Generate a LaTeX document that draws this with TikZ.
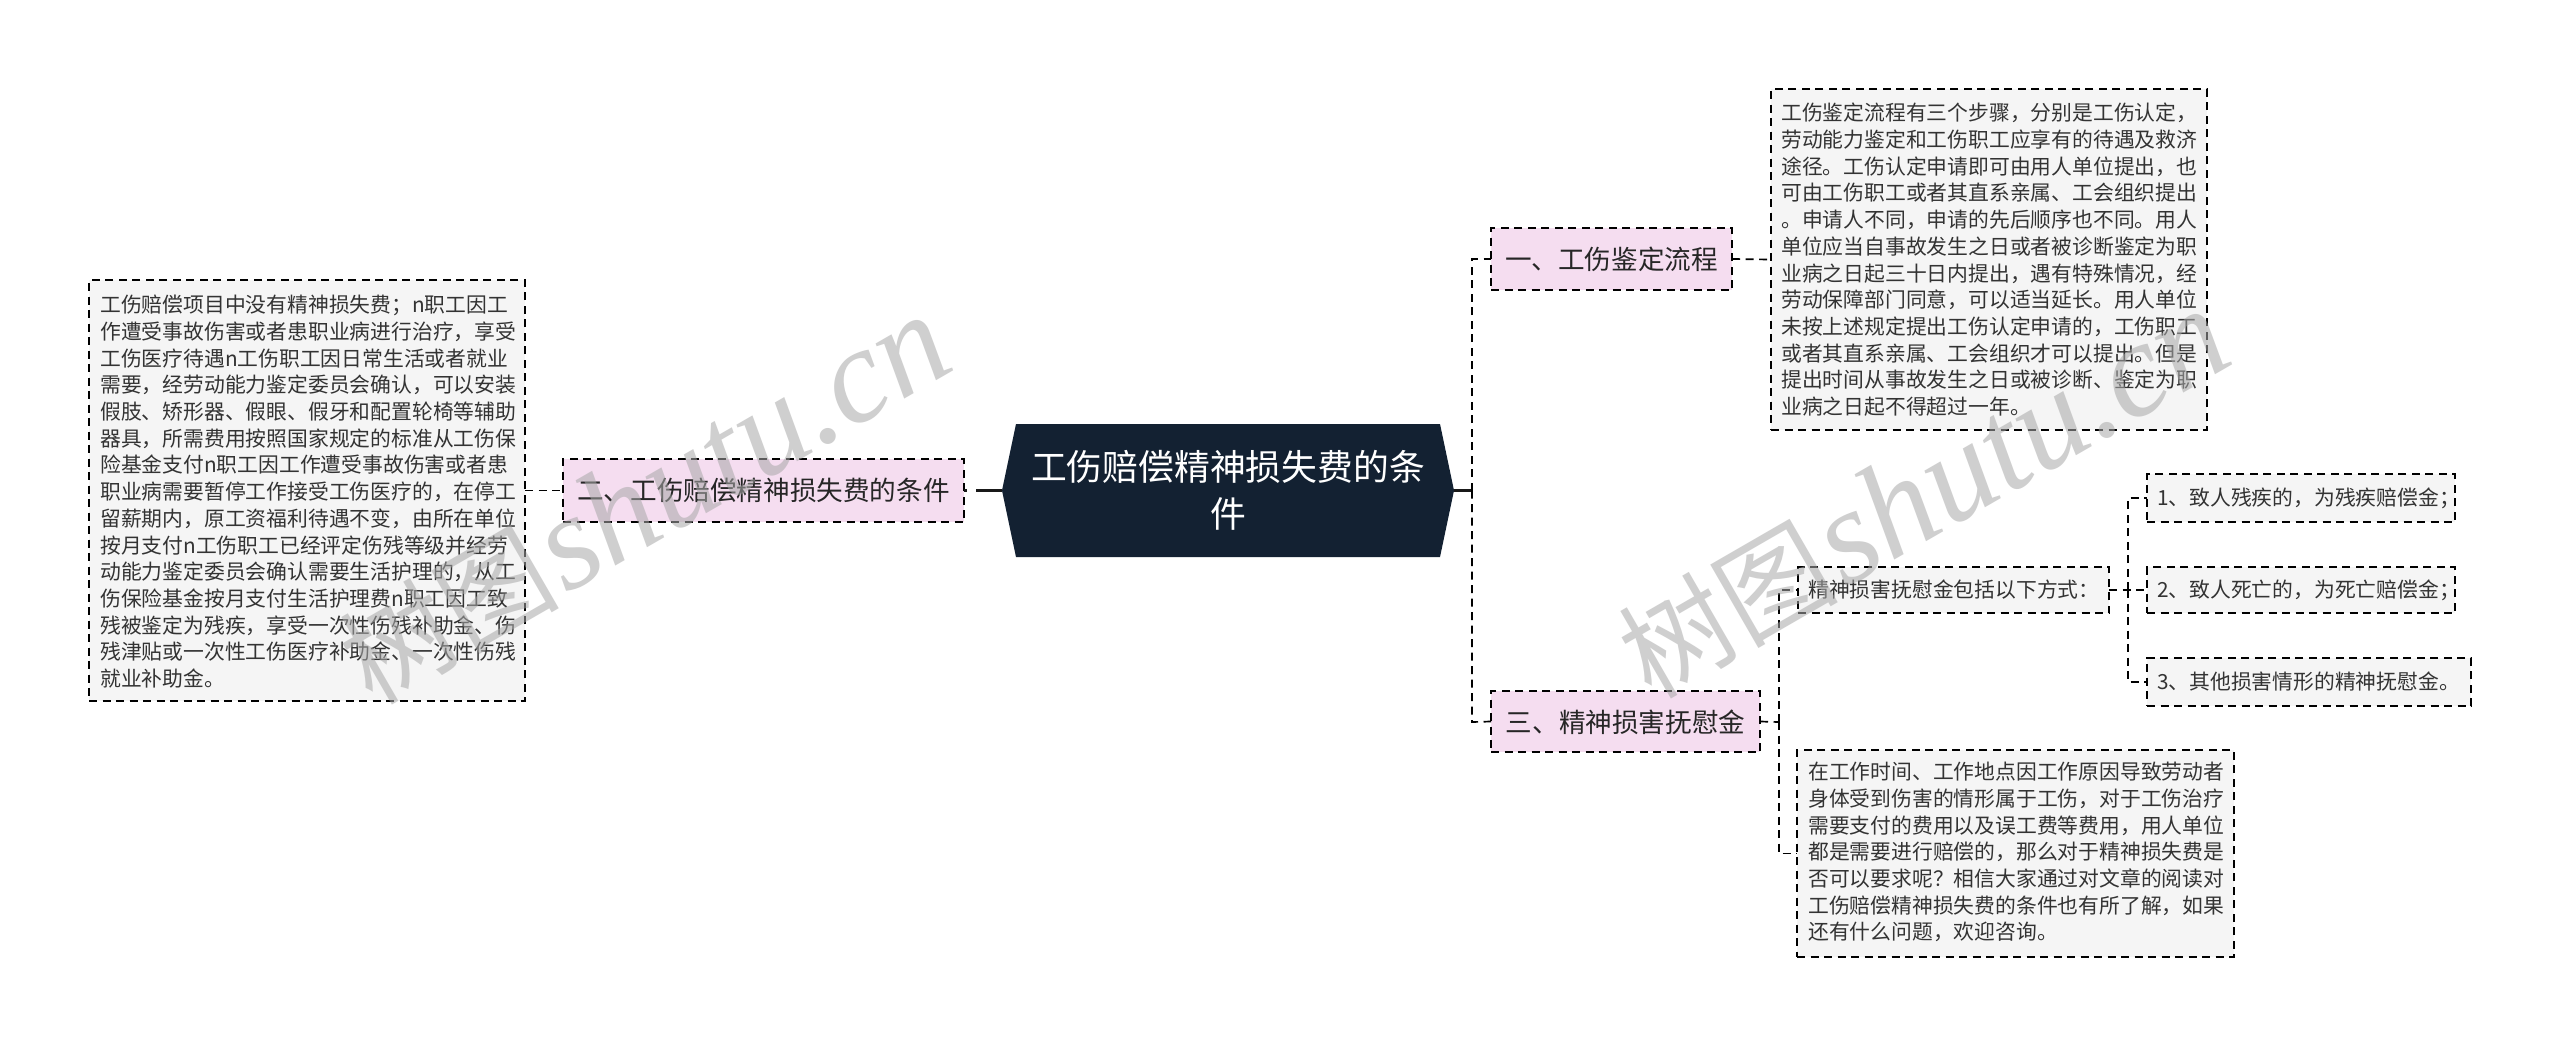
\documentclass[tikz,border=0pt]{standalone}
\usepackage{fontspec}
\setmainfont{Noto Sans CJK SC}[Scale=1]
\newfontfamily\wmlat{Liberation Serif}
\newfontfamily\wmcjk{Noto Sans CJK SC}
\definecolor{rootfill}{HTML}{132132}
\definecolor{pinkfill}{HTML}{F5DDF0}
\definecolor{greyfill}{HTML}{F5F5F5}
\definecolor{inktext}{HTML}{333333}
\definecolor{wmgrey}{HTML}{A8A8A8}
\tikzset{
  x=1pt,y=-1pt,
  dashline/.style={draw=black,line width=1.7pt,dash pattern=on 8pt off 5.5pt},
  boxnode/.style={dashline,fill=greyfill,inner sep=0pt,outer sep=0pt,anchor=north west},
  pinknode/.style={dashline,fill=pinkfill,inner sep=0pt,outer sep=0pt,anchor=north west,text=black!85},
  bodytext/.style={text=inktext,font=\fontsize{20.8}{26.7}\selectfont,align=left,inner sep=0pt,anchor=north west},
  titletext/.style={text=black!85,font=\fontsize{26.6}{32}\selectfont,inner sep=0pt},
  wm/.style={text=wmgrey,opacity=.55,rotate=30,anchor=base west,inner sep=0pt},
}
\newcommand{\boxat}[5]{%
  \node[#1,minimum width=#4pt,minimum height=#5pt] (#2) at (#3) {};}
\newcommand{\wmtext}{{\fontsize{110}{110}\wmcjk 树图}\hspace{4pt}{\fontsize{135}{135}\wmlat\itshape shutu.cn}}
\begin{document}
\begin{tikzpicture}
\useasboundingbox (0,0) rectangle (2560,1047);
\fill[white] (0,0) rectangle (2560,1047);

% root
\coordinate (rl) at (1002,490.5);
\coordinate (rr) at (1454,490.5);
\fill[rootfill] (1016,424) -- (1440,424) -- (rr) -- (1440,557) -- (1016,557) -- (rl) -- cycle;
\node[text=white,font=\fontsize{35.8}{47}\selectfont,align=center,inner sep=0pt] (root) at (1228,490.5) {工伤赔偿精神损失费的条\\件};

% level 1
\boxat{pinknode}{b2}{563,459}{401}{63}
\node[titletext] (b2t) at (763.5,490.5) {二、工伤赔偿精神损失费的条件};
\boxat{pinknode}{b1}{1491,228}{241}{62}
\node[titletext] (b1t) at (1611.5,259) {一、工伤鉴定流程};
\boxat{pinknode}{b3}{1491,691}{269}{61}
\node[titletext] (b3t) at (1625.5,722) {三、精神损害抚慰金};

% level 2
\boxat{boxnode}{t2}{89,280}{436}{421}
\node[bodytext] (t2t) at (100,295) {工伤赔偿项目中没有精神损失费；n职工因工\\作遭受事故伤害或者患职业病进行治疗，享受\\工伤医疗待遇n工伤职工因日常生活或者就业\\需要，经劳动能力鉴定委员会确认，可以安装\\假肢、矫形器、假眼、假牙和配置轮椅等辅助\\器具，所需费用按照国家规定的标准从工伤保\\险基金支付n职工因工作遭受事故伤害或者患\\职业病需要暂停工作接受工伤医疗的，在停工\\留薪期内，原工资福利待遇不变，由所在单位\\按月支付n工伤职工已经评定伤残等级并经劳\\动能力鉴定委员会确认需要生活护理的，从工\\伤保险基金按月支付生活护理费n职工因工致\\残被鉴定为残疾，享受一次性伤残补助金、伤\\残津贴或一次性工伤医疗补助金、一次性伤残\\就业补助金。};

\boxat{boxnode}{t1}{1771,89}{436}{341}
\node[bodytext] (t1t) at (1781,103) {工伤鉴定流程有三个步骤，分别是工伤认定，\\劳动能力鉴定和工伤职工应享有的待遇及救济\\途径。工伤认定申请即可由用人单位提出，也\\可由工伤职工或者其直系亲属、工会组织提出\\。申请人不同，申请的先后顺序也不同。用人\\单位应当自事故发生之日或者被诊断鉴定为职\\业病之日起三十日内提出，遇有特殊情况，经\\劳动保障部门同意，可以适当延长。用人单位\\未按上述规定提出工伤认定申请的，工伤职工\\或者其直系亲属、工会组织才可以提出。但是\\提出时间从事故发生之日或被诊断、鉴定为职\\业病之日起不得超过一年。};

\boxat{boxnode}{m}{1798,567}{311}{46}
\node[bodytext,anchor=west] (mt) at (1808,590) {精神损害抚慰金包括以下方式：};

\boxat{boxnode}{e}{1797,750}{437}{207}
\node[bodytext] (et) at (1808,762) {在工作时间、工作地点因工作原因导致劳动者\\身体受到伤害的情形属于工伤，对于工伤治疗\\需要支付的费用以及误工费等费用，用人单位\\都是需要进行赔偿的，那么对于精神损失费是\\否可以要求呢？相信大家通过对文章的阅读对\\工伤赔偿精神损失费的条件也有所了解，如果\\还有什么问题，欢迎咨询。};

\boxat{boxnode}{c1}{2147,474}{308}{48}
\node[bodytext,anchor=west] (c1t) at (2157,498) {1、致人残疾的，为残疾赔偿金；};
\boxat{boxnode}{c2}{2147,567}{308}{46}
\node[bodytext,anchor=west] (c2t) at (2157,590) {2、致人死亡的，为死亡赔偿金；};
\boxat{boxnode}{c3}{2147,658}{324}{48}
\node[bodytext,anchor=west] (c3t) at (2157,682) {3、其他损害情形的精神抚慰金。};

% connectors
\draw[line width=3.4pt,black!90,dash pattern=on 3pt off 9pt on 40pt] (b2.east) -- (rl);
\draw[dashline] (t2.east) -- (b2.west);
\draw[line width=3pt,black!90] (rr) -- (1472,490.5);
\draw[dashline] (1472,490.5) -- (1472,259) -- (b1.west);
\draw[dashline] (1472,490.5) -- (1472,722) -- (b3.west);
\draw[dashline] (b1.east) -- (t1.west);
\draw[dashline] (b3.east) -- (1779,722);
\draw[dashline] (1779,722) -- (1779,590) -- (m.west);
\draw[dashline] (1779,722) -- (1779,853.5) -- (e.west);
\draw[dashline] (m.east) -- (c2.west);
\draw[dashline] (2128,590) -- (2128,498) -- (c1.west);
\draw[dashline] (2128,590) -- (2128,682) -- (c3.west);

% watermarks
\node[wm] (w1) at (372,707) {\wmtext};
\node[wm] (w2) at (1651,701) {\wmtext};
\end{tikzpicture}
\end{document}
